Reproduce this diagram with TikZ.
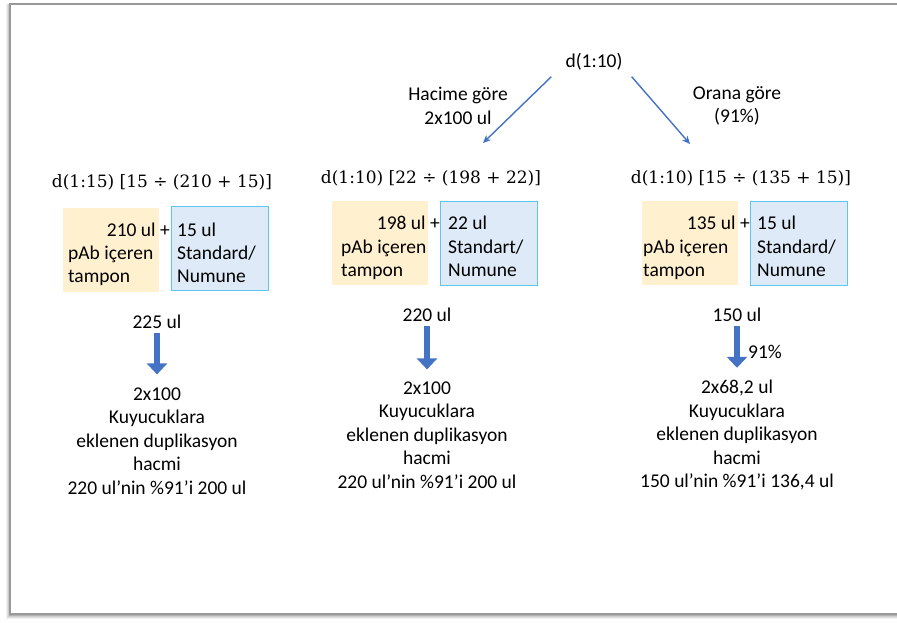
\documentclass[tikz,border=0pt]{standalone}
\usepackage{fontspec}
\newfontfamily\carlito{Carlito}
\newfontfamily\mixfont{DejaVu Serif}
\usetikzlibrary{arrows.meta}
\definecolor{arrowblue}{HTML}{4472C4}
\definecolor{padfill}{HTML}{FFF0CF}
\definecolor{samplefill}{HTML}{DEEAF7}
\definecolor{sampleline}{HTML}{5BC6F0}

\begin{document}
\begin{tikzpicture}[x=1pt, y=-1pt,
    lbl/.style={font=\carlito\fontsize{19.5}{23.5}\selectfont, inner sep=0pt},
    formula/.style={font=\mixfont\fontsize{17}{21}\selectfont, inner sep=0pt},
    padbox/.style={fill=padfill, minimum width=96pt, minimum height=84pt, inner sep=0pt},
    samplebox/.style={fill=samplefill, draw=sampleline, line width=1pt,
        minimum width=97pt, minimum height=84pt, inner sep=0pt},
    thinarrow/.style={arrowblue, line width=1.4pt, -{Stealth[length=8pt,width=7pt]}},
    blockarrow/.style={arrowblue, line width=6.5pt, -{Triangle[length=11pt,width=20pt]}}]
\useasboundingbox (0,0) rectangle (897,623);
% frame with shadow
\foreach \s/\o in {1/0.30,2/0.20,3/0.12,4/0.06}
    \draw[black, opacity=\o, line width=1pt] (10-\s,4) -- (10-\s,614+\s) -- (910,614+\s);
\draw[black!40, line width=1.2pt, fill=white] (10,4) rectangle (910,614);

% top split
\node[lbl] (root) at (594,62) {d(1:10)};
\node[lbl, align=center] (byvol) at (458,106) {Hacime göre\\2x100 ul};
\node[lbl, align=center] (byratio) at (737,106) {Orana göre\\(91\%)};
\coordinate (volend) at (483,143);
\coordinate (ratioend) at (690,144);
\draw[thinarrow] ([shift={(-14,6)}]root.south west) -- (volend);
\draw[thinarrow] ([shift={(9,6)}]root.south east) -- (ratioend);

% column 1
\node[formula] (mix1) at (162,182) {d(1:15) [15 ÷ (210 + 15)]};
\node[padbox] (pad1) at (111,250) {};
\node[samplebox] (smp1) at (219.5,248) {};
\node[lbl, anchor=base east] (padvol1) at (170,236) {210 ul +};
\node[lbl, anchor=base west] (padtxt1) at (68,259) {pAb içeren};
\node[lbl, anchor=base west] (padtxtb1) at (68,282) {tampon};
\node[lbl, anchor=base west] (smpvol1) at (177,236) {15 ul};
\node[lbl, anchor=base west] (smptxt1) at (177,259) {Standard/};
\node[lbl, anchor=base west] (smptxtb1) at (177,282) {Numune};
\node[lbl] (tot1) at (157,322) {225 ul};
\node[lbl, align=center] (well1) at (157,441)
    {2x100\\Kuyucuklara\\eklenen duplikasyon\\hacmi\\220 ul’nin \%91’i 200 ul};
\draw[blockarrow, shorten <=4pt, shorten >=13pt] (tot1.south) -- (well1.north);

% column 2
\node[formula] (mix2) at (431,178) {d(1:10) [22 ÷ (198 + 22)]};
\node[padbox] (pad2) at (380,243) {};
\node[samplebox] (smp2) at (488.5,243) {};
\node[lbl, anchor=base east] (padvol2) at (440,229) {198 ul +};
\node[lbl, anchor=base west] (padtxt2) at (341,253) {pAb içeren};
\node[lbl, anchor=base west] (padtxtb2) at (341,276) {tampon};
\node[lbl, anchor=base west] (smpvol2) at (448,229) {22 ul};
\node[lbl, anchor=base west] (smptxt2) at (448,253) {Standart/};
\node[lbl, anchor=base west] (smptxtb2) at (448,276) {Numune};
\node[lbl] (tot2) at (427,315) {220 ul};
\node[lbl, align=center] (well2) at (427,435)
    {2x100\\Kuyucuklara\\eklenen duplikasyon\\hacmi\\220 ul’nin \%91’i 200 ul};
\draw[blockarrow, shorten <=4pt, shorten >=12pt] (tot2.south) -- (well2.north);

% column 3
\node[formula] (mix3) at (741,178) {d(1:10) [15 ÷ (135 + 15)]};
\node[padbox] (pad3) at (690,243) {};
\node[samplebox] (smp3) at (798.5,243) {};
\node[lbl, anchor=base east] (padvol3) at (750,229) {135 ul +};
\node[lbl, anchor=base west] (padtxt3) at (643,253) {pAb içeren};
\node[lbl, anchor=base west] (padtxtb3) at (643,276) {tampon};
\node[lbl, anchor=base west] (smpvol3) at (757,229) {15 ul};
\node[lbl, anchor=base west] (smptxt3) at (757,253) {Standard/};
\node[lbl, anchor=base west] (smptxtb3) at (757,276) {Numune};
\node[lbl] (tot3) at (737,315) {150 ul};
\node[lbl, align=center] (well3) at (737,435)
    {2x68,2 ul\\Kuyucuklara\\eklenen duplikasyon\\hacmi\\150 ul’nin \%91’i 136,4 ul};
\draw[blockarrow, shorten <=4pt, shorten >=12pt] (tot3.south) -- (well3.north);
\node[lbl] (pct3) at (765,352) {91\%};
\end{tikzpicture}
\end{document}
